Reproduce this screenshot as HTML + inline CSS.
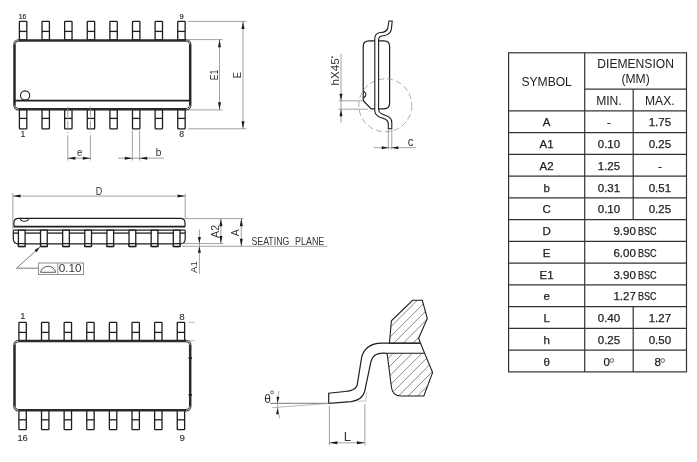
<!DOCTYPE html><html><head><meta charset="utf-8"><style>html,body{margin:0;padding:0;background:#fff;}svg{display:block;}</style></head><body>
<svg width="697" height="462" viewBox="0 0 697 462" style="will-change:transform" font-family='"Liberation Sans", sans-serif'>
<rect width="697" height="462" fill="#fff"/>
<rect x="19.40" y="21.4" width="7.4" height="18.6" rx="0.6" fill="none" stroke="#1e1e1e" stroke-width="1.3"/>
<line x1="19.4" y1="31.4" x2="26.799999999999997" y2="31.4" stroke="#1e1e1e" stroke-width="1.3" />
<rect x="19.40" y="109.6" width="7.4" height="19.2" rx="0.6" fill="none" stroke="#1e1e1e" stroke-width="1.3"/>
<line x1="19.4" y1="118.4" x2="26.799999999999997" y2="118.4" stroke="#1e1e1e" stroke-width="1.3" />
<rect x="42.02" y="21.4" width="7.4" height="18.6" rx="0.6" fill="none" stroke="#1e1e1e" stroke-width="1.3"/>
<line x1="42.019999999999996" y1="31.4" x2="49.419999999999995" y2="31.4" stroke="#1e1e1e" stroke-width="1.3" />
<rect x="42.02" y="109.6" width="7.4" height="19.2" rx="0.6" fill="none" stroke="#1e1e1e" stroke-width="1.3"/>
<line x1="42.019999999999996" y1="118.4" x2="49.419999999999995" y2="118.4" stroke="#1e1e1e" stroke-width="1.3" />
<rect x="64.64" y="21.4" width="7.4" height="18.6" rx="0.6" fill="none" stroke="#1e1e1e" stroke-width="1.3"/>
<line x1="64.64" y1="31.4" x2="72.04" y2="31.4" stroke="#1e1e1e" stroke-width="1.3" />
<rect x="64.64" y="109.6" width="7.4" height="19.2" rx="0.6" fill="none" stroke="#1e1e1e" stroke-width="1.3"/>
<line x1="64.64" y1="118.4" x2="72.04" y2="118.4" stroke="#1e1e1e" stroke-width="1.3" />
<rect x="87.26" y="21.4" width="7.4" height="18.6" rx="0.6" fill="none" stroke="#1e1e1e" stroke-width="1.3"/>
<line x1="87.25999999999999" y1="31.4" x2="94.66" y2="31.4" stroke="#1e1e1e" stroke-width="1.3" />
<rect x="87.26" y="109.6" width="7.4" height="19.2" rx="0.6" fill="none" stroke="#1e1e1e" stroke-width="1.3"/>
<line x1="87.25999999999999" y1="118.4" x2="94.66" y2="118.4" stroke="#1e1e1e" stroke-width="1.3" />
<rect x="109.88" y="21.4" width="7.4" height="18.6" rx="0.6" fill="none" stroke="#1e1e1e" stroke-width="1.3"/>
<line x1="109.88" y1="31.4" x2="117.28" y2="31.4" stroke="#1e1e1e" stroke-width="1.3" />
<rect x="109.88" y="109.6" width="7.4" height="19.2" rx="0.6" fill="none" stroke="#1e1e1e" stroke-width="1.3"/>
<line x1="109.88" y1="118.4" x2="117.28" y2="118.4" stroke="#1e1e1e" stroke-width="1.3" />
<rect x="132.50" y="21.4" width="7.4" height="18.6" rx="0.6" fill="none" stroke="#1e1e1e" stroke-width="1.3"/>
<line x1="132.5" y1="31.4" x2="139.9" y2="31.4" stroke="#1e1e1e" stroke-width="1.3" />
<rect x="132.50" y="109.6" width="7.4" height="19.2" rx="0.6" fill="none" stroke="#1e1e1e" stroke-width="1.3"/>
<line x1="132.5" y1="118.4" x2="139.9" y2="118.4" stroke="#1e1e1e" stroke-width="1.3" />
<rect x="155.12" y="21.4" width="7.4" height="18.6" rx="0.6" fill="none" stroke="#1e1e1e" stroke-width="1.3"/>
<line x1="155.12" y1="31.4" x2="162.52" y2="31.4" stroke="#1e1e1e" stroke-width="1.3" />
<rect x="155.12" y="109.6" width="7.4" height="19.2" rx="0.6" fill="none" stroke="#1e1e1e" stroke-width="1.3"/>
<line x1="155.12" y1="118.4" x2="162.52" y2="118.4" stroke="#1e1e1e" stroke-width="1.3" />
<rect x="177.74" y="21.4" width="7.4" height="18.6" rx="0.6" fill="none" stroke="#1e1e1e" stroke-width="1.3"/>
<line x1="177.74" y1="31.4" x2="185.14000000000001" y2="31.4" stroke="#1e1e1e" stroke-width="1.3" />
<rect x="177.74" y="109.6" width="7.4" height="19.2" rx="0.6" fill="none" stroke="#1e1e1e" stroke-width="1.3"/>
<line x1="177.74" y1="118.4" x2="185.14000000000001" y2="118.4" stroke="#1e1e1e" stroke-width="1.3" />
<rect x="14.5" y="40.4" width="175.7" height="68.8" rx="4" fill="#fff" stroke="#2a2a2a" stroke-width="2.5"/>
<line x1="14.4" y1="100.6" x2="190.2" y2="100.6" stroke="#1e1e1e" stroke-width="1.8" />
<path d="M14.5,44.4 A4,4 0 0 1 18.5,40.4 M186.2,40.4 A4,4 0 0 1 190.2,44.4 M190.2,105.2 A4,4 0 0 1 186.2,109.2 M18.5,109.2 A4,4 0 0 1 14.5,105.2" fill="none" stroke="#fff" stroke-width="0.7"/>
<circle cx="25.1" cy="95.5" r="4.6" fill="none" stroke="#1e1e1e" stroke-width="1.1"/>
<text x="22.5" y="18.9" font-size="8" text-anchor="middle" fill="#333" textLength="7.6" lengthAdjust="spacingAndGlyphs" stroke="#333" stroke-width="0.2">16</text>
<text x="181.6" y="18.9" font-size="8" text-anchor="middle" fill="#333" textLength="4.2" lengthAdjust="spacingAndGlyphs" stroke="#333" stroke-width="0.2">9</text>
<text x="22.9" y="136.9" font-size="8.8" text-anchor="middle" fill="#333" textLength="4.8" lengthAdjust="spacingAndGlyphs" stroke="#333" stroke-width="0.15">1</text>
<text x="181.6" y="137" font-size="8.8" text-anchor="middle" fill="#333" textLength="4.8" lengthAdjust="spacingAndGlyphs" stroke="#333" stroke-width="0.15">8</text>
<line x1="67.8" y1="106.5" x2="67.8" y2="116.8" stroke="#8a8a8a" stroke-width="0.8" />
<line x1="67.8" y1="118.3" x2="67.8" y2="119.3" stroke="#8a8a8a" stroke-width="0.8" />
<line x1="67.8" y1="120.8" x2="67.8" y2="129.7" stroke="#8a8a8a" stroke-width="0.8" />
<line x1="67.8" y1="132" x2="67.8" y2="133" stroke="#8a8a8a" stroke-width="0.8" />
<line x1="67.8" y1="135.3" x2="67.8" y2="160.5" stroke="#8a8a8a" stroke-width="0.8" />
<line x1="90.4" y1="106.5" x2="90.4" y2="116.8" stroke="#8a8a8a" stroke-width="0.8" />
<line x1="90.4" y1="118.3" x2="90.4" y2="119.3" stroke="#8a8a8a" stroke-width="0.8" />
<line x1="90.4" y1="120.8" x2="90.4" y2="129.7" stroke="#8a8a8a" stroke-width="0.8" />
<line x1="90.4" y1="132" x2="90.4" y2="133" stroke="#8a8a8a" stroke-width="0.8" />
<line x1="90.4" y1="135.3" x2="90.4" y2="160.5" stroke="#8a8a8a" stroke-width="0.8" />
<line x1="67.8" y1="158.2" x2="90.4" y2="158.2" stroke="#8a8a8a" stroke-width="0.8" />
<polygon points="67.80,158.20 75.40,156.70 75.40,159.70" fill="#1a1a1a"/>
<polygon points="90.40,158.20 82.80,159.70 82.80,156.70" fill="#1a1a1a"/>
<text x="79.6" y="156.1" font-size="11" text-anchor="middle" fill="#333" textLength="5.4" lengthAdjust="spacingAndGlyphs" >e</text>
<line x1="132.4" y1="130.5" x2="132.4" y2="160.5" stroke="#8a8a8a" stroke-width="0.8" />
<line x1="139.6" y1="130.5" x2="139.6" y2="160.5" stroke="#8a8a8a" stroke-width="0.8" />
<line x1="118" y1="158.2" x2="164" y2="158.2" stroke="#8a8a8a" stroke-width="0.8" />
<polygon points="132.40,158.20 124.80,159.70 124.80,156.70" fill="#1a1a1a"/>
<polygon points="139.60,158.20 147.20,156.70 147.20,159.70" fill="#1a1a1a"/>
<text x="158.5" y="155.9" font-size="10.5" text-anchor="middle" fill="#333" textLength="5.6" lengthAdjust="spacingAndGlyphs" >b</text>
<line x1="188" y1="39.6" x2="222.5" y2="39.6" stroke="#8a8a8a" stroke-width="0.8" />
<line x1="188" y1="109.9" x2="222.5" y2="109.9" stroke="#8a8a8a" stroke-width="0.8" />
<line x1="219.5" y1="39.6" x2="219.5" y2="109.9" stroke="#8a8a8a" stroke-width="0.8" />
<polygon points="219.50,39.60 221.00,47.20 218.00,47.20" fill="#1a1a1a"/>
<polygon points="219.50,109.90 218.00,102.30 221.00,102.30" fill="#1a1a1a"/>
<text x="217.6" y="75" font-size="10.5" text-anchor="middle" fill="#333" transform="rotate(-90 217.6 75)" textLength="10.5" lengthAdjust="spacingAndGlyphs" >E1</text>
<line x1="188" y1="21.4" x2="246.5" y2="21.4" stroke="#8a8a8a" stroke-width="0.8" />
<line x1="188" y1="128.8" x2="246.5" y2="128.8" stroke="#8a8a8a" stroke-width="0.8" />
<line x1="243" y1="21.4" x2="243" y2="128.8" stroke="#8a8a8a" stroke-width="0.8" />
<polygon points="243.00,21.40 244.50,29.00 241.50,29.00" fill="#1a1a1a"/>
<polygon points="243.00,128.80 241.50,121.20 244.50,121.20" fill="#1a1a1a"/>
<text x="241" y="75.1" font-size="10.5" text-anchor="middle" fill="#333" transform="rotate(-90 241 75.1)" textLength="6.2" lengthAdjust="spacingAndGlyphs" >E</text>
<line x1="12.9" y1="193" x2="12.9" y2="229.3" stroke="#8a8a8a" stroke-width="0.8" />
<line x1="185.2" y1="193.7" x2="185.2" y2="219" stroke="#8a8a8a" stroke-width="0.8" />
<line x1="12.9" y1="196.1" x2="185.2" y2="196.1" stroke="#8a8a8a" stroke-width="0.8" />
<polygon points="12.90,196.10 20.50,194.60 20.50,197.60" fill="#1a1a1a"/>
<polygon points="185.20,196.10 177.60,197.60 177.60,194.60" fill="#1a1a1a"/>
<text x="99" y="194.5" font-size="10.5" text-anchor="middle" fill="#333" textLength="6.5" lengthAdjust="spacingAndGlyphs" >D</text>
<path d="M13.9,226.8 L13.9,223 Q13.9,218.4 18.5,218.4 L180.5,218.4 Q185,218.4 185,223 L185,226.8" fill="none" stroke="#1e1e1e" stroke-width="1.2"/>
<path d="M20.3,218.5 C20.8,222.2 28,222.2 28.5,218.5" fill="none" stroke="#1e1e1e" stroke-width="1.1"/>
<line x1="13.9" y1="226.6" x2="185" y2="226.6" stroke="#1e1e1e" stroke-width="1.8" />
<line x1="13.3" y1="230.2" x2="185.2" y2="230.2" stroke="#1e1e1e" stroke-width="1.2" />
<path d="M13.3,230.2 L13.3,238.5 Q13.3,243.8 18.5,243.8 L180.5,243.8 Q185.2,243.8 185.2,238.5 L185.2,230.2" fill="none" stroke="#1e1e1e" stroke-width="1.2"/>
<rect x="18.40" y="230.2" width="6.7" height="16.3" fill="#fff" stroke="#1e1e1e" stroke-width="1.3"/>
<rect x="18.40" y="243.7" width="6.7" height="2.8" rx="0.8" fill="#fff" stroke="#1e1e1e" stroke-width="1.3"/>
<rect x="40.53" y="230.2" width="6.7" height="16.3" fill="#fff" stroke="#1e1e1e" stroke-width="1.3"/>
<rect x="40.53" y="243.7" width="6.7" height="2.8" rx="0.8" fill="#fff" stroke="#1e1e1e" stroke-width="1.3"/>
<rect x="62.66" y="230.2" width="6.7" height="16.3" fill="#fff" stroke="#1e1e1e" stroke-width="1.3"/>
<rect x="62.66" y="243.7" width="6.7" height="2.8" rx="0.8" fill="#fff" stroke="#1e1e1e" stroke-width="1.3"/>
<rect x="84.79" y="230.2" width="6.7" height="16.3" fill="#fff" stroke="#1e1e1e" stroke-width="1.3"/>
<rect x="84.79" y="243.7" width="6.7" height="2.8" rx="0.8" fill="#fff" stroke="#1e1e1e" stroke-width="1.3"/>
<rect x="106.92" y="230.2" width="6.7" height="16.3" fill="#fff" stroke="#1e1e1e" stroke-width="1.3"/>
<rect x="106.92" y="243.7" width="6.7" height="2.8" rx="0.8" fill="#fff" stroke="#1e1e1e" stroke-width="1.3"/>
<rect x="129.05" y="230.2" width="6.7" height="16.3" fill="#fff" stroke="#1e1e1e" stroke-width="1.3"/>
<rect x="129.05" y="243.7" width="6.7" height="2.8" rx="0.8" fill="#fff" stroke="#1e1e1e" stroke-width="1.3"/>
<rect x="151.18" y="230.2" width="6.7" height="16.3" fill="#fff" stroke="#1e1e1e" stroke-width="1.3"/>
<rect x="151.18" y="243.7" width="6.7" height="2.8" rx="0.8" fill="#fff" stroke="#1e1e1e" stroke-width="1.3"/>
<rect x="173.31" y="230.2" width="6.7" height="16.3" fill="#fff" stroke="#1e1e1e" stroke-width="1.3"/>
<rect x="173.31" y="243.7" width="6.7" height="2.8" rx="0.8" fill="#fff" stroke="#1e1e1e" stroke-width="1.3"/>
<line x1="13.3" y1="233.1" x2="18.4" y2="233.1" stroke="#1e1e1e" stroke-width="1.3" />
<line x1="25.099999999999998" y1="233.1" x2="40.53" y2="233.1" stroke="#1e1e1e" stroke-width="1.3" />
<line x1="47.230000000000004" y1="233.1" x2="62.66" y2="233.1" stroke="#1e1e1e" stroke-width="1.3" />
<line x1="69.36" y1="233.1" x2="84.78999999999999" y2="233.1" stroke="#1e1e1e" stroke-width="1.3" />
<line x1="91.49" y1="233.1" x2="106.91999999999999" y2="233.1" stroke="#1e1e1e" stroke-width="1.3" />
<line x1="113.61999999999999" y1="233.1" x2="129.04999999999998" y2="233.1" stroke="#1e1e1e" stroke-width="1.3" />
<line x1="135.74999999999997" y1="233.1" x2="151.18" y2="233.1" stroke="#1e1e1e" stroke-width="1.3" />
<line x1="157.88" y1="233.1" x2="173.31" y2="233.1" stroke="#1e1e1e" stroke-width="1.3" />
<line x1="180.01" y1="233.1" x2="185.2" y2="233.1" stroke="#1e1e1e" stroke-width="1.3" />
<line x1="182" y1="243.6" x2="223" y2="243.6" stroke="#8a8a8a" stroke-width="0.8" />
<line x1="182" y1="246.3" x2="327.4" y2="246.3" stroke="#8a8a8a" stroke-width="0.8" />
<line x1="185" y1="218.6" x2="243.5" y2="218.6" stroke="#8a8a8a" stroke-width="0.8" />
<line x1="220.9" y1="218.6" x2="220.9" y2="243.6" stroke="#8a8a8a" stroke-width="0.8" />
<polygon points="220.90,218.60 222.40,226.20 219.40,226.20" fill="#1a1a1a"/>
<polygon points="220.90,243.60 219.40,236.00 222.40,236.00" fill="#1a1a1a"/>
<line x1="241.3" y1="218.6" x2="241.3" y2="246.3" stroke="#8a8a8a" stroke-width="0.8" />
<polygon points="241.30,218.60 242.80,226.20 239.80,226.20" fill="#1a1a1a"/>
<polygon points="241.30,246.30 239.80,238.70 242.80,238.70" fill="#1a1a1a"/>
<line x1="199.4" y1="229.7" x2="199.4" y2="273.9" stroke="#8a8a8a" stroke-width="0.8" />
<polygon points="199.40,243.60 197.90,237.10 200.90,237.10" fill="#1a1a1a"/>
<polygon points="199.40,246.30 200.90,252.80 197.90,252.80" fill="#1a1a1a"/>
<text x="219.4" y="231.4" font-size="11.5" text-anchor="middle" fill="#333" transform="rotate(-90 219.4 231.4)" textLength="13" lengthAdjust="spacingAndGlyphs" >A2</text>
<text x="238.9" y="232.7" font-size="10.5" text-anchor="middle" fill="#333" transform="rotate(-90 238.9 232.7)" textLength="7" lengthAdjust="spacingAndGlyphs" >A</text>
<text x="196.7" y="267" font-size="9.5" text-anchor="middle" fill="#333" transform="rotate(-90 196.7 267)" textLength="11.8" lengthAdjust="spacingAndGlyphs" >A1</text>
<text x="251.5" y="245" font-size="11" text-anchor="start" fill="#333" textLength="37.8" lengthAdjust="spacingAndGlyphs" >SEATING</text>
<text x="295" y="245" font-size="11" text-anchor="start" fill="#333" textLength="29.3" lengthAdjust="spacingAndGlyphs" >PLANE</text>
<line x1="40" y1="247.1" x2="16.5" y2="268.2" stroke="#444" stroke-width="0.7" />
<line x1="16.5" y1="268.2" x2="38.4" y2="268.2" stroke="#444" stroke-width="0.7" />
<polygon points="40.00,247.10 36.54,252.22 34.53,249.99" fill="#1a1a1a"/>
<rect x="38.4" y="263" width="45.2" height="11.6" fill="none" stroke="#777" stroke-width="0.8"/>
<line x1="57.8" y1="263" x2="57.8" y2="274.6" stroke="#777" stroke-width="0.8" />
<path d="M40.6,272.3 A7.6,7.2 0 0 1 55.6,272.3 Z" fill="none" stroke="#444" stroke-width="0.9"/>
<text x="70.2" y="272.4" font-size="10" text-anchor="middle" fill="#333" textLength="22.9" lengthAdjust="spacingAndGlyphs" >0.10</text>
<rect x="18.90" y="322.4" width="7.4" height="18.4" rx="0.6" fill="none" stroke="#1e1e1e" stroke-width="1.3"/>
<line x1="18.9" y1="332.4" x2="26.299999999999997" y2="332.4" stroke="#1e1e1e" stroke-width="1.3" />
<rect x="18.90" y="410.3" width="7.4" height="19.3" rx="0.6" fill="none" stroke="#1e1e1e" stroke-width="1.3"/>
<line x1="18.9" y1="419.8" x2="26.299999999999997" y2="419.8" stroke="#1e1e1e" stroke-width="1.3" />
<rect x="41.52" y="322.4" width="7.4" height="18.4" rx="0.6" fill="none" stroke="#1e1e1e" stroke-width="1.3"/>
<line x1="41.519999999999996" y1="332.4" x2="48.919999999999995" y2="332.4" stroke="#1e1e1e" stroke-width="1.3" />
<rect x="41.52" y="410.3" width="7.4" height="19.3" rx="0.6" fill="none" stroke="#1e1e1e" stroke-width="1.3"/>
<line x1="41.519999999999996" y1="419.8" x2="48.919999999999995" y2="419.8" stroke="#1e1e1e" stroke-width="1.3" />
<rect x="64.14" y="322.4" width="7.4" height="18.4" rx="0.6" fill="none" stroke="#1e1e1e" stroke-width="1.3"/>
<line x1="64.14" y1="332.4" x2="71.54" y2="332.4" stroke="#1e1e1e" stroke-width="1.3" />
<rect x="64.14" y="410.3" width="7.4" height="19.3" rx="0.6" fill="none" stroke="#1e1e1e" stroke-width="1.3"/>
<line x1="64.14" y1="419.8" x2="71.54" y2="419.8" stroke="#1e1e1e" stroke-width="1.3" />
<rect x="86.76" y="322.4" width="7.4" height="18.4" rx="0.6" fill="none" stroke="#1e1e1e" stroke-width="1.3"/>
<line x1="86.75999999999999" y1="332.4" x2="94.16" y2="332.4" stroke="#1e1e1e" stroke-width="1.3" />
<rect x="86.76" y="410.3" width="7.4" height="19.3" rx="0.6" fill="none" stroke="#1e1e1e" stroke-width="1.3"/>
<line x1="86.75999999999999" y1="419.8" x2="94.16" y2="419.8" stroke="#1e1e1e" stroke-width="1.3" />
<rect x="109.38" y="322.4" width="7.4" height="18.4" rx="0.6" fill="none" stroke="#1e1e1e" stroke-width="1.3"/>
<line x1="109.38" y1="332.4" x2="116.78" y2="332.4" stroke="#1e1e1e" stroke-width="1.3" />
<rect x="109.38" y="410.3" width="7.4" height="19.3" rx="0.6" fill="none" stroke="#1e1e1e" stroke-width="1.3"/>
<line x1="109.38" y1="419.8" x2="116.78" y2="419.8" stroke="#1e1e1e" stroke-width="1.3" />
<rect x="132.00" y="322.4" width="7.4" height="18.4" rx="0.6" fill="none" stroke="#1e1e1e" stroke-width="1.3"/>
<line x1="132.0" y1="332.4" x2="139.4" y2="332.4" stroke="#1e1e1e" stroke-width="1.3" />
<rect x="132.00" y="410.3" width="7.4" height="19.3" rx="0.6" fill="none" stroke="#1e1e1e" stroke-width="1.3"/>
<line x1="132.0" y1="419.8" x2="139.4" y2="419.8" stroke="#1e1e1e" stroke-width="1.3" />
<rect x="154.62" y="322.4" width="7.4" height="18.4" rx="0.6" fill="none" stroke="#1e1e1e" stroke-width="1.3"/>
<line x1="154.62" y1="332.4" x2="162.02" y2="332.4" stroke="#1e1e1e" stroke-width="1.3" />
<rect x="154.62" y="410.3" width="7.4" height="19.3" rx="0.6" fill="none" stroke="#1e1e1e" stroke-width="1.3"/>
<line x1="154.62" y1="419.8" x2="162.02" y2="419.8" stroke="#1e1e1e" stroke-width="1.3" />
<rect x="177.24" y="322.4" width="7.4" height="18.4" rx="0.6" fill="none" stroke="#1e1e1e" stroke-width="1.3"/>
<line x1="177.24" y1="332.4" x2="184.64000000000001" y2="332.4" stroke="#1e1e1e" stroke-width="1.3" />
<rect x="177.24" y="410.3" width="7.4" height="19.3" rx="0.6" fill="none" stroke="#1e1e1e" stroke-width="1.3"/>
<line x1="177.24" y1="419.8" x2="184.64000000000001" y2="419.8" stroke="#1e1e1e" stroke-width="1.3" />
<rect x="14.5" y="340.9" width="175.7" height="69.4" rx="4" fill="#fff" stroke="#2a2a2a" stroke-width="2.5"/>
<path d="M14.5,344.9 A4,4 0 0 1 18.5,340.9 M186.2,340.9 A4,4 0 0 1 190.2,344.9 M190.2,406.3 A4,4 0 0 1 186.2,410.3 M18.5,410.3 A4,4 0 0 1 14.5,406.3" fill="none" stroke="#fff" stroke-width="0.7"/>
<text x="22.9" y="319.3" font-size="9.5" text-anchor="middle" fill="#333" textLength="5.2" lengthAdjust="spacingAndGlyphs" stroke="#333" stroke-width="0.15">1</text>
<text x="182" y="319.6" font-size="9.5" text-anchor="middle" fill="#333" textLength="5.4" lengthAdjust="spacingAndGlyphs" stroke="#333" stroke-width="0.15">8</text>
<text x="22.6" y="441.1" font-size="9.5" text-anchor="middle" fill="#333" textLength="10.4" lengthAdjust="spacingAndGlyphs" stroke="#333" stroke-width="0.15">16</text>
<text x="182.3" y="440.9" font-size="9.5" text-anchor="middle" fill="#333" textLength="5.4" lengthAdjust="spacingAndGlyphs" stroke="#333" stroke-width="0.15">9</text>
<line x1="188.4" y1="322.3" x2="194.8" y2="322.3" stroke="#aaa" stroke-width="0.8" />
<line x1="188.4" y1="340.7" x2="194.8" y2="340.7" stroke="#aaa" stroke-width="0.8" />
<rect x="188.6" y="357.3" width="3.4" height="1.6" fill="#1e1e1e"/><rect x="188.6" y="394" width="3.4" height="1.6" fill="#1e1e1e"/>
<path d="M363.2,46.5 Q363.2,40.8 369,40.8 L384,40.8 Q389.6,40.8 389.6,46.5 L389.6,103 Q389.6,108.8 384,108.8 L371.2,108.8 L363.2,100.7 Z" fill="none" stroke="#1e1e1e" stroke-width="1.2"/>
<path d="M363.4,91 Q368.5,94.5 363.4,98" fill="none" stroke="#1e1e1e" stroke-width="1.1"/>
<circle cx="385.3" cy="105.3" r="26.5" fill="none" stroke="#999" stroke-width="0.8" stroke-dasharray="6 3"/>
<path d="M388.9,21 L387.8,28 Q386.8,32 381,32.5 L379,32.8 Q374.8,34 374.8,39 L374.8,111 Q374.8,114.5 379.4,116.9 L385.5,119.3 Q388.3,120.8 388.3,124 L388.3,128.8 L391.8,128.8 L391.8,123 Q391.8,118 387.5,116.2 L381.5,113.7 Q378.6,112 378.6,109.5 L378.6,40.5 Q378.6,36.5 381.5,36 L383.5,35.7 Q390.8,34.5 391.4,29 L392.2,21 Z" fill="#fff" stroke="#1e1e1e" stroke-width="1.1"/>
<line x1="341" y1="53.9" x2="341" y2="122.8" stroke="#8a8a8a" stroke-width="0.8" />
<polygon points="341.00,100.80 339.50,93.80 342.50,93.80" fill="#1a1a1a"/>
<polygon points="341.00,109.20 342.50,116.20 339.50,116.20" fill="#1a1a1a"/>
<line x1="338.6" y1="100.8" x2="362" y2="100.8" stroke="#8a8a8a" stroke-width="0.8" />
<line x1="338.6" y1="109.2" x2="368" y2="109.2" stroke="#8a8a8a" stroke-width="0.8" />
<text x="339.3" y="85.4" font-size="11" text-anchor="start" fill="#333" transform="rotate(-90 339.3 85.4)" textLength="27.2" lengthAdjust="spacingAndGlyphs" >hX45</text>
<circle cx="332.2" cy="57.2" r="0.9" fill="#333"/>
<line x1="388.3" y1="129" x2="388.3" y2="149.6" stroke="#8a8a8a" stroke-width="0.8" />
<line x1="391.8" y1="129" x2="391.8" y2="149.6" stroke="#8a8a8a" stroke-width="0.8" />
<line x1="373.8" y1="147.7" x2="416" y2="147.7" stroke="#8a8a8a" stroke-width="0.8" />
<polygon points="388.30,147.70 381.80,149.20 381.80,146.20" fill="#1a1a1a"/>
<polygon points="391.80,147.70 398.30,146.20 398.30,149.20" fill="#1a1a1a"/>
<text x="410.6" y="146.4" font-size="12" text-anchor="middle" fill="#333" textLength="5.6" lengthAdjust="spacingAndGlyphs" >c</text>
<defs><clipPath id="cu"><polygon points="412.6,300.3 422.3,300.3 427.3,318.5 418.6,338.2 420.5,343.3 389.4,343.3 391.4,320.8"/></clipPath><clipPath id="cl"><path d="M387.1,353.3 L424.7,353.3 L432.6,372.6 L423.8,396 L400.8,396 Q392.5,396 391.4,387 Z"/></clipPath></defs>
<g clip-path="url(#cu)"><path d="M48.0,420 L188.0,280 M57.60000000000002,420 L197.60000000000002,280 M67.20000000000005,420 L207.20000000000005,280 M76.80000000000001,420 L216.8,280 M86.39999999999998,420 L226.39999999999998,280 M96.0,420 L236.0,280 M105.60000000000002,420 L245.60000000000002,280 M115.20000000000005,420 L255.20000000000005,280 M124.79999999999995,420 L264.79999999999995,280 M134.39999999999998,420 L274.4,280 M144.0,420 L284.0,280 M153.60000000000002,420 L293.6,280 M163.20000000000005,420 L303.20000000000005,280 M172.79999999999995,420 L312.79999999999995,280 M182.39999999999998,420 L322.4,280 M192.0,420 L332.0,280 M201.60000000000002,420 L341.6,280 M211.20000000000005,420 L351.20000000000005,280 M220.79999999999995,420 L360.79999999999995,280 M230.39999999999998,420 L370.4,280 M240.0,420 L380.0,280 M249.60000000000002,420 L389.6,280 M259.20000000000005,420 L399.20000000000005,280 M268.79999999999995,420 L408.79999999999995,280 M278.4,420 L418.4,280 M288.0,420 L428.0,280 M297.6,420 L437.6,280 M307.20000000000005,420 L447.20000000000005,280 M316.79999999999995,420 L456.79999999999995,280 M326.4,420 L466.4,280 M336.0,420 L476.0,280 M345.6,420 L485.6,280 M355.20000000000005,420 L495.20000000000005,280 M364.79999999999995,420 L504.79999999999995,280 M374.4,420 L514.4,280 M384.0,420 L524.0,280 M393.6,420 L533.6,280 M403.20000000000005,420 L543.2,280 M412.79999999999995,420 L552.8,280 M422.4,420 L562.4,280 M432.0,420 L572.0,280 M441.6,420 L581.6,280 M451.20000000000005,420 L591.2,280 M460.79999999999995,420 L600.8,280 M470.4,420 L610.4,280 M480.0,420 L620.0,280 M489.6,420 L629.6,280 M499.20000000000005,420 L639.2,280 M508.79999999999995,420 L648.8,280 M518.4,420 L658.4,280" stroke="#555" stroke-width="0.7"/></g>
<g clip-path="url(#cl)"><path d="M48.0,420 L188.0,280 M57.60000000000002,420 L197.60000000000002,280 M67.20000000000005,420 L207.20000000000005,280 M76.80000000000001,420 L216.8,280 M86.39999999999998,420 L226.39999999999998,280 M96.0,420 L236.0,280 M105.60000000000002,420 L245.60000000000002,280 M115.20000000000005,420 L255.20000000000005,280 M124.79999999999995,420 L264.79999999999995,280 M134.39999999999998,420 L274.4,280 M144.0,420 L284.0,280 M153.60000000000002,420 L293.6,280 M163.20000000000005,420 L303.20000000000005,280 M172.79999999999995,420 L312.79999999999995,280 M182.39999999999998,420 L322.4,280 M192.0,420 L332.0,280 M201.60000000000002,420 L341.6,280 M211.20000000000005,420 L351.20000000000005,280 M220.79999999999995,420 L360.79999999999995,280 M230.39999999999998,420 L370.4,280 M240.0,420 L380.0,280 M249.60000000000002,420 L389.6,280 M259.20000000000005,420 L399.20000000000005,280 M268.79999999999995,420 L408.79999999999995,280 M278.4,420 L418.4,280 M288.0,420 L428.0,280 M297.6,420 L437.6,280 M307.20000000000005,420 L447.20000000000005,280 M316.79999999999995,420 L456.79999999999995,280 M326.4,420 L466.4,280 M336.0,420 L476.0,280 M345.6,420 L485.6,280 M355.20000000000005,420 L495.20000000000005,280 M364.79999999999995,420 L504.79999999999995,280 M374.4,420 L514.4,280 M384.0,420 L524.0,280 M393.6,420 L533.6,280 M403.20000000000005,420 L543.2,280 M412.79999999999995,420 L552.8,280 M422.4,420 L562.4,280 M432.0,420 L572.0,280 M441.6,420 L581.6,280 M451.20000000000005,420 L591.2,280 M460.79999999999995,420 L600.8,280 M470.4,420 L610.4,280 M480.0,420 L620.0,280 M489.6,420 L629.6,280 M499.20000000000005,420 L639.2,280 M508.79999999999995,420 L648.8,280 M518.4,420 L658.4,280" stroke="#555" stroke-width="0.7"/></g>
<polygon points="412.6,300.3 422.3,300.3 427.3,318.5 418.6,338.2 420.5,343.3 389.4,343.3 391.4,320.8" fill="none" stroke="#1e1e1e" stroke-width="1.1"/>
<path d="M387.1,353.3 L424.7,353.3 M420.5,343.3 L432.6,372.6 L423.8,396 L400.8,396 Q392.5,396 391.4,387 L387.1,353.3" fill="none" stroke="#1e1e1e" stroke-width="1.1"/>
<path d="M420.5,343.1 L381.5,343.1 Q365,343.5 361.6,357.5 L357.2,385.2 Q355,391 345,391.5 L328.7,393.2 L328.7,403.4 L351.2,401.7 Q362,400 364.5,392 L371.1,361 Q373.5,353 383.2,353.1 L387.1,353.3" fill="none" stroke="#1e1e1e" stroke-width="1.2"/>
<line x1="366.8" y1="392.4" x2="365.7" y2="401.1" stroke="#aaa" stroke-width="0.7" />
<line x1="365.7" y1="401.1" x2="357" y2="401.1" stroke="#aaa" stroke-width="0.7" />
<line x1="270.2" y1="403.3" x2="329" y2="403.3" stroke="#555" stroke-width="0.8" />
<line x1="272" y1="407.7" x2="329" y2="403.4" stroke="#999" stroke-width="0.7" />
<path d="M278.9,391 A51.5,51.5 0 0 0 279.7,418.5" fill="none" stroke="#888" stroke-width="0.7"/>
<polygon points="277.60,403.30 276.53,396.74 279.32,396.88" fill="#1a1a1a"/>
<polygon points="277.70,407.80 278.77,414.36 275.98,414.22" fill="#1a1a1a"/>
<text x="267.6" y="403.3" font-size="12.5" text-anchor="middle" fill="#333" textLength="6.6" lengthAdjust="spacingAndGlyphs" >θ</text>
<circle cx="272" cy="392.4" r="1.45" fill="none" stroke="#444" stroke-width="0.8"/>
<line x1="329.4" y1="406" x2="329.4" y2="445.4" stroke="#8a8a8a" stroke-width="0.8" />
<line x1="364.9" y1="404" x2="364.9" y2="445.4" stroke="#8a8a8a" stroke-width="0.8" />
<line x1="329.4" y1="442.8" x2="364.9" y2="442.8" stroke="#8a8a8a" stroke-width="0.8" />
<polygon points="329.40,442.80 337.40,441.30 337.40,444.30" fill="#1a1a1a"/>
<polygon points="364.90,442.80 356.90,444.30 356.90,441.30" fill="#1a1a1a"/>
<text x="347.4" y="440.6" font-size="12.7" text-anchor="middle" fill="#333" textLength="7.3" lengthAdjust="spacingAndGlyphs" >L</text>
<g stroke="#333" stroke-width="1.2" fill="none">
<rect x="508.6" y="52.8" width="177.90" height="319.10"/>
<line x1="584.7" y1="52.8" x2="584.7" y2="371.9"/>
<line x1="584.7" y1="89.2" x2="686.5" y2="89.2"/>
<line x1="508.6" y1="110.80" x2="686.5" y2="110.80"/>
<line x1="508.6" y1="132.56" x2="686.5" y2="132.56"/>
<line x1="508.6" y1="154.32" x2="686.5" y2="154.32"/>
<line x1="508.6" y1="176.07" x2="686.5" y2="176.07"/>
<line x1="508.6" y1="197.83" x2="686.5" y2="197.83"/>
<line x1="508.6" y1="219.59" x2="686.5" y2="219.59"/>
<line x1="508.6" y1="241.35" x2="686.5" y2="241.35"/>
<line x1="508.6" y1="263.11" x2="686.5" y2="263.11"/>
<line x1="508.6" y1="284.87" x2="686.5" y2="284.87"/>
<line x1="508.6" y1="306.62" x2="686.5" y2="306.62"/>
<line x1="508.6" y1="328.38" x2="686.5" y2="328.38"/>
<line x1="508.6" y1="350.14" x2="686.5" y2="350.14"/>
<line x1="633.2" y1="89.2" x2="633.2" y2="219.59"/>
<line x1="633.2" y1="306.62" x2="633.2" y2="371.9"/>
</g>
<g fill="#222" font-size="11.7">
<text x="546.6500000000001" y="85.9" font-size="12.1" text-anchor="middle" fill="#222" >SYMBOL</text>
<text x="635.6" y="67.9" font-size="12.1" text-anchor="middle" fill="#222" >DIEMENSION</text>
<text x="635.6" y="82.6" font-size="12.1" text-anchor="middle" fill="#222" >(MM)</text>
<text x="608.95" y="104.5" font-size="12.1" text-anchor="middle" fill="#222" >MIN.</text>
<text x="659.85" y="104.5" font-size="12.1" text-anchor="middle" fill="#222" >MAX.</text>
</g>
<text x="546.6500000000001" y="126.3" font-size="11.5" text-anchor="middle" fill="#222" stroke="#222" stroke-width="0.25">A</text>
<text x="608.95" y="126.3" font-size="11.5" text-anchor="middle" fill="#222" stroke="#222" stroke-width="0.25">-</text>
<text x="659.85" y="126.3" font-size="11.5" text-anchor="middle" fill="#222" stroke="#222" stroke-width="0.25">1.75</text>
<text x="546.6500000000001" y="148.05833333333334" font-size="11.5" text-anchor="middle" fill="#222" stroke="#222" stroke-width="0.25">A1</text>
<text x="608.95" y="148.05833333333334" font-size="11.5" text-anchor="middle" fill="#222" stroke="#222" stroke-width="0.25">0.10</text>
<text x="659.85" y="148.05833333333334" font-size="11.5" text-anchor="middle" fill="#222" stroke="#222" stroke-width="0.25">0.25</text>
<text x="546.6500000000001" y="169.81666666666666" font-size="11.5" text-anchor="middle" fill="#222" stroke="#222" stroke-width="0.25">A2</text>
<text x="608.95" y="169.81666666666666" font-size="11.5" text-anchor="middle" fill="#222" stroke="#222" stroke-width="0.25">1.25</text>
<text x="659.85" y="169.81666666666666" font-size="11.5" text-anchor="middle" fill="#222" stroke="#222" stroke-width="0.25">-</text>
<text x="546.6500000000001" y="191.575" font-size="11.5" text-anchor="middle" fill="#222" stroke="#222" stroke-width="0.25">b</text>
<text x="608.95" y="191.575" font-size="11.5" text-anchor="middle" fill="#222" stroke="#222" stroke-width="0.25">0.31</text>
<text x="659.85" y="191.575" font-size="11.5" text-anchor="middle" fill="#222" stroke="#222" stroke-width="0.25">0.51</text>
<text x="546.6500000000001" y="213.33333333333331" font-size="11.5" text-anchor="middle" fill="#222" stroke="#222" stroke-width="0.25">C</text>
<text x="608.95" y="213.33333333333331" font-size="11.5" text-anchor="middle" fill="#222" stroke="#222" stroke-width="0.25">0.10</text>
<text x="659.85" y="213.33333333333331" font-size="11.5" text-anchor="middle" fill="#222" stroke="#222" stroke-width="0.25">0.25</text>
<text x="546.6500000000001" y="235.09166666666664" font-size="11.5" text-anchor="middle" fill="#222" stroke="#222" stroke-width="0.25">D</text>
<text x="613.4" y="235.09166666666664" font-size="11.5" text-anchor="start" fill="#222" stroke="#222" stroke-width="0.25">9.90</text>
<text x="638.0" y="235.09166666666664" font-size="11.5" text-anchor="start" fill="#222" textLength="18.6" lengthAdjust="spacingAndGlyphs" stroke="#222" stroke-width="0.25">BSC</text>
<text x="546.6500000000001" y="256.84999999999997" font-size="11.5" text-anchor="middle" fill="#222" stroke="#222" stroke-width="0.25">E</text>
<text x="613.4" y="256.84999999999997" font-size="11.5" text-anchor="start" fill="#222" stroke="#222" stroke-width="0.25">6.00</text>
<text x="638.0" y="256.84999999999997" font-size="11.5" text-anchor="start" fill="#222" textLength="18.6" lengthAdjust="spacingAndGlyphs" stroke="#222" stroke-width="0.25">BSC</text>
<text x="546.6500000000001" y="278.6083333333333" font-size="11.5" text-anchor="middle" fill="#222" stroke="#222" stroke-width="0.25">E1</text>
<text x="613.4" y="278.6083333333333" font-size="11.5" text-anchor="start" fill="#222" stroke="#222" stroke-width="0.25">3.90</text>
<text x="638.0" y="278.6083333333333" font-size="11.5" text-anchor="start" fill="#222" textLength="18.6" lengthAdjust="spacingAndGlyphs" stroke="#222" stroke-width="0.25">BSC</text>
<text x="546.6500000000001" y="300.3666666666666" font-size="11.5" text-anchor="middle" fill="#222" stroke="#222" stroke-width="0.25">e</text>
<text x="613.4" y="300.3666666666666" font-size="11.5" text-anchor="start" fill="#222" stroke="#222" stroke-width="0.25">1.27</text>
<text x="638.0" y="300.3666666666666" font-size="11.5" text-anchor="start" fill="#222" textLength="18.6" lengthAdjust="spacingAndGlyphs" stroke="#222" stroke-width="0.25">BSC</text>
<text x="546.6500000000001" y="322.12499999999994" font-size="11.5" text-anchor="middle" fill="#222" stroke="#222" stroke-width="0.25">L</text>
<text x="608.95" y="322.12499999999994" font-size="11.5" text-anchor="middle" fill="#222" stroke="#222" stroke-width="0.25">0.40</text>
<text x="659.85" y="322.12499999999994" font-size="11.5" text-anchor="middle" fill="#222" stroke="#222" stroke-width="0.25">1.27</text>
<text x="546.6500000000001" y="343.88333333333327" font-size="11.5" text-anchor="middle" fill="#222" stroke="#222" stroke-width="0.25">h</text>
<text x="608.95" y="343.88333333333327" font-size="11.5" text-anchor="middle" fill="#222" stroke="#222" stroke-width="0.25">0.25</text>
<text x="659.85" y="343.88333333333327" font-size="11.5" text-anchor="middle" fill="#222" stroke="#222" stroke-width="0.25">0.50</text>
<text x="546.6500000000001" y="365.6416666666666" font-size="11.5" text-anchor="middle" fill="#222" stroke="#222" stroke-width="0.25">θ</text>
<text x="609.9" y="365.6416666666666" font-size="11.5" text-anchor="end" fill="#222" stroke="#222" stroke-width="0.25">0</text>
<text x="660.9" y="365.6416666666666" font-size="11.5" text-anchor="end" fill="#222" stroke="#222" stroke-width="0.25">8</text>
<circle cx="611.8" cy="360.5" r="1.9" fill="none" stroke="#444" stroke-width="0.8"/>
<circle cx="662.7" cy="360.5" r="1.9" fill="none" stroke="#444" stroke-width="0.8"/>
</svg></body></html>
